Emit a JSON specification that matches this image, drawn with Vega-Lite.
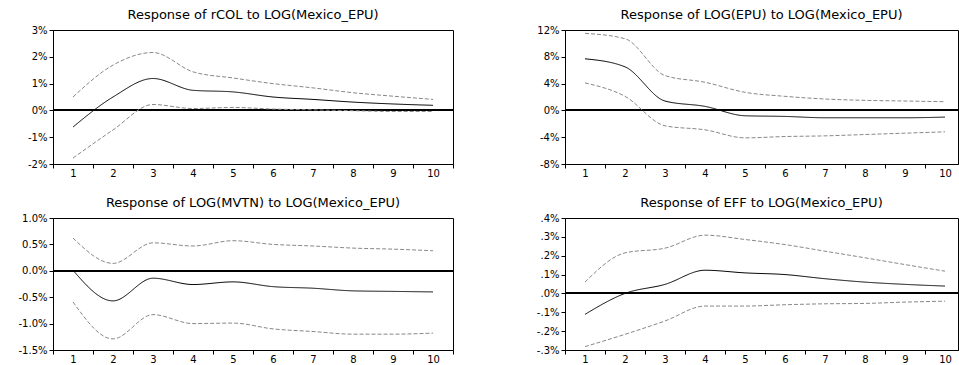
{
  "$schema": "https://vega.github.io/schema/vega-lite/v6.json",
  "padding": {"left": 17, "top": 8, "right": 0, "bottom": 0},
  "background": "white",
  "spacing": {"row": 17, "column": 80},
  "config": {
    "font": "DejaVu Sans",
    "view": {"stroke": "#000", "strokeWidth": 1},
    "axis": {"labelFont": "DejaVu Sans", "labelFontSize": 10, "labelColor": "#000", "domainColor": "#000", "tickColor": "#000", "tickSize": 4, "labelPadding": 2, "grid": false, "title": null, "labelOverlap": false, "labelBound": false, "labelFlush": false, "tickCount": 100},
    "axisX": {"labelPadding": 0},
    "title": {"font": "DejaVu Sans", "fontSize": 13, "fontWeight": "normal", "color": "#000", "anchor": "middle", "frame": "group", "baseline": "bottom", "offset": 3}
  },
  "datasets": {
    "irf": [
      {"panel": "rCOL", "period": 1, "irf": -0.62, "lo": -1.78, "hi": 0.5},
      {"panel": "rCOL", "period": 2, "irf": 0.5, "lo": -0.73, "hi": 1.69},
      {"panel": "rCOL", "period": 3, "irf": 1.19, "lo": 0.22, "hi": 2.16},
      {"panel": "rCOL", "period": 4, "irf": 0.75, "lo": 0.07, "hi": 1.44},
      {"panel": "rCOL", "period": 5, "irf": 0.69, "lo": 0.11, "hi": 1.21},
      {"panel": "rCOL", "period": 6, "irf": 0.5, "lo": 0.05, "hi": 1.0},
      {"panel": "rCOL", "period": 7, "irf": 0.41, "lo": 0.02, "hi": 0.84},
      {"panel": "rCOL", "period": 8, "irf": 0.31, "lo": -0.01, "hi": 0.66},
      {"panel": "rCOL", "period": 9, "irf": 0.24, "lo": -0.04, "hi": 0.53},
      {"panel": "rCOL", "period": 10, "irf": 0.19, "lo": -0.04, "hi": 0.41},
      {"panel": "EPU", "period": 1, "irf": 7.7, "lo": 4.1, "hi": 11.5},
      {"panel": "EPU", "period": 2, "irf": 6.5, "lo": 2.1, "hi": 10.7},
      {"panel": "EPU", "period": 3, "irf": 1.4, "lo": -2.3, "hi": 5.2},
      {"panel": "EPU", "period": 4, "irf": 0.6, "lo": -2.9, "hi": 4.2},
      {"panel": "EPU", "period": 5, "irf": -0.8, "lo": -4.1, "hi": 2.7},
      {"panel": "EPU", "period": 6, "irf": -0.9, "lo": -3.9, "hi": 2.1},
      {"panel": "EPU", "period": 7, "irf": -1.1, "lo": -3.8, "hi": 1.7},
      {"panel": "EPU", "period": 8, "irf": -1.1, "lo": -3.6, "hi": 1.5},
      {"panel": "EPU", "period": 9, "irf": -1.1, "lo": -3.4, "hi": 1.4},
      {"panel": "EPU", "period": 10, "irf": -1.0, "lo": -3.2, "hi": 1.3},
      {"panel": "MVTN", "period": 1, "irf": 0.01, "lo": -0.59, "hi": 0.62},
      {"panel": "MVTN", "period": 2, "irf": -0.57, "lo": -1.29, "hi": 0.14},
      {"panel": "MVTN", "period": 3, "irf": -0.14, "lo": -0.83, "hi": 0.53},
      {"panel": "MVTN", "period": 4, "irf": -0.26, "lo": -1.0, "hi": 0.47},
      {"panel": "MVTN", "period": 5, "irf": -0.21, "lo": -0.99, "hi": 0.57},
      {"panel": "MVTN", "period": 6, "irf": -0.3, "lo": -1.1, "hi": 0.5},
      {"panel": "MVTN", "period": 7, "irf": -0.33, "lo": -1.15, "hi": 0.47},
      {"panel": "MVTN", "period": 8, "irf": -0.38, "lo": -1.2, "hi": 0.43},
      {"panel": "MVTN", "period": 9, "irf": -0.39, "lo": -1.2, "hi": 0.41},
      {"panel": "MVTN", "period": 10, "irf": -0.4, "lo": -1.18, "hi": 0.38},
      {"panel": "EFF", "period": 1, "irf": -0.111, "lo": -0.282, "hi": 0.06},
      {"panel": "EFF", "period": 2, "irf": 0.0, "lo": -0.217, "hi": 0.215},
      {"panel": "EFF", "period": 3, "irf": 0.048, "lo": -0.146, "hi": 0.24},
      {"panel": "EFF", "period": 4, "irf": 0.123, "lo": -0.067, "hi": 0.309},
      {"panel": "EFF", "period": 5, "irf": 0.109, "lo": -0.067, "hi": 0.286},
      {"panel": "EFF", "period": 6, "irf": 0.1, "lo": -0.06, "hi": 0.259},
      {"panel": "EFF", "period": 7, "irf": 0.078, "lo": -0.055, "hi": 0.224},
      {"panel": "EFF", "period": 8, "irf": 0.06, "lo": -0.053, "hi": 0.189},
      {"panel": "EFF", "period": 9, "irf": 0.048, "lo": -0.046, "hi": 0.153},
      {"panel": "EFF", "period": 10, "irf": 0.039, "lo": -0.041, "hi": 0.118}
    ]
  },
  "data": {"name": "irf"},
  "columns": 2,
  "concat": [
    {
      "width": 400, "height": 134,
      "title": "Response of rCOL to LOG(Mexico_EPU)",
      "transform": [{"filter": "datum.panel == 'rCOL'"}, {"fold": ["hi", "lo", "irf"], "as": ["series", "value"]}],
      "layer": [
        {"mark": {"type": "rule", "color": "#000", "strokeWidth": 1.2}, "encoding": {"y": {"datum": 0, "type": "quantitative"}}},
        {"mark": {"type": "line", "strokeWidth": 1, "interpolate": "monotone"},
         "encoding": {
           "x": {"field": "period", "type": "quantitative", "scale": {"domain": [0.5, 10.5], "nice": false, "zero": false},
                 "axis": {"values": [0.5, 1, 1.5, 2, 2.5, 3, 3.5, 4, 4.5, 5, 5.5, 6, 6.5, 7, 7.5, 8, 8.5, 9, 9.5, 10, 10.5], "tickCount": 100, "labelOverlap": false, "labelExpr": "datum.value % 1 == 0 ? format(datum.value, 'd') : ''", "tickOpacity": {"condition": {"test": "datum.value % 1 == 0", "value": 0}, "value": 1}}},
           "y": {"field": "value", "type": "quantitative", "scale": {"domain": [-2, 3], "nice": false, "zero": false},
                 "axis": {"values": [-2, -1, 0, 1, 2, 3], "tickCount": 100, "labelOverlap": false, "labelExpr": "(datum.value < 0 ? '-' : '') + abs(datum.value) + '%'"}},
           "color": {"field": "series", "type": "nominal", "scale": {"domain": ["hi", "lo", "irf"], "range": ["#888888", "#888888", "#000000"]}, "legend": null},
           "strokeDash": {"field": "series", "type": "nominal", "scale": {"domain": ["hi", "lo", "irf"], "range": [[4, 2], [4, 2], [1, 0]]}, "legend": null}
         }}
      ]
    },
    {
      "width": 393, "height": 134,
      "title": "Response of LOG(EPU) to LOG(Mexico_EPU)",
      "transform": [{"filter": "datum.panel == 'EPU'"}, {"fold": ["hi", "lo", "irf"], "as": ["series", "value"]}],
      "layer": [
        {"mark": {"type": "rule", "color": "#000", "strokeWidth": 1.2}, "encoding": {"y": {"datum": 0, "type": "quantitative"}}},
        {"mark": {"type": "line", "strokeWidth": 1, "interpolate": "monotone"},
         "encoding": {
           "x": {"field": "period", "type": "quantitative", "scale": {"domain": [0.5, 10.325], "nice": false, "zero": false},
                 "axis": {"values": [0.5, 1, 1.5, 2, 2.5, 3, 3.5, 4, 4.5, 5, 5.5, 6, 6.5, 7, 7.5, 8, 8.5, 9, 9.5, 10], "tickCount": 100, "labelOverlap": false, "labelExpr": "datum.value % 1 == 0 ? format(datum.value, 'd') : ''", "tickOpacity": {"condition": {"test": "datum.value % 1 == 0", "value": 0}, "value": 1}}},
           "y": {"field": "value", "type": "quantitative", "scale": {"domain": [-8, 12], "nice": false, "zero": false},
                 "axis": {"values": [-8, -4, 0, 4, 8, 12], "tickCount": 100, "labelOverlap": false, "labelExpr": "(datum.value < 0 ? '-' : '') + abs(datum.value) + '%'"}},
           "color": {"field": "series", "type": "nominal", "scale": {"domain": ["hi", "lo", "irf"], "range": ["#888888", "#888888", "#000000"]}, "legend": null},
           "strokeDash": {"field": "series", "type": "nominal", "scale": {"domain": ["hi", "lo", "irf"], "range": [[4, 2], [4, 2], [1, 0]]}, "legend": null}
         }}
      ]
    },
    {
      "width": 400, "height": 132,
      "title": "Response of LOG(MVTN) to LOG(Mexico_EPU)",
      "transform": [{"filter": "datum.panel == 'MVTN'"}, {"fold": ["hi", "lo", "irf"], "as": ["series", "value"]}],
      "layer": [
        {"mark": {"type": "rule", "color": "#000", "strokeWidth": 1.2}, "encoding": {"y": {"datum": 0, "type": "quantitative"}}},
        {"mark": {"type": "line", "strokeWidth": 1, "interpolate": "monotone"},
         "encoding": {
           "x": {"field": "period", "type": "quantitative", "scale": {"domain": [0.5, 10.5], "nice": false, "zero": false},
                 "axis": {"values": [0.5, 1, 1.5, 2, 2.5, 3, 3.5, 4, 4.5, 5, 5.5, 6, 6.5, 7, 7.5, 8, 8.5, 9, 9.5, 10, 10.5], "tickCount": 100, "labelOverlap": false, "labelExpr": "datum.value % 1 == 0 ? format(datum.value, 'd') : ''", "tickOpacity": {"condition": {"test": "datum.value % 1 == 0", "value": 0}, "value": 1}}},
           "y": {"field": "value", "type": "quantitative", "scale": {"domain": [-1.5, 1.0], "nice": false, "zero": false},
                 "axis": {"values": [-1.5, -1.0, -0.5, 0, 0.5, 1.0], "tickCount": 100, "labelOverlap": false, "labelExpr": "(datum.value < 0 ? '-' : '') + format(abs(datum.value), '.1f') + '%'"}},
           "color": {"field": "series", "type": "nominal", "scale": {"domain": ["hi", "lo", "irf"], "range": ["#888888", "#888888", "#000000"]}, "legend": null},
           "strokeDash": {"field": "series", "type": "nominal", "scale": {"domain": ["hi", "lo", "irf"], "range": [[4, 2], [4, 2], [1, 0]]}, "legend": null}
         }}
      ]
    },
    {
      "width": 393, "height": 132,
      "title": "Response of EFF to LOG(Mexico_EPU)",
      "transform": [{"filter": "datum.panel == 'EFF'"}, {"fold": ["hi", "lo", "irf"], "as": ["series", "value"]}],
      "layer": [
        {"mark": {"type": "rule", "color": "#000", "strokeWidth": 1.2}, "encoding": {"y": {"datum": 0, "type": "quantitative"}}},
        {"mark": {"type": "line", "strokeWidth": 1, "interpolate": "monotone"},
         "encoding": {
           "x": {"field": "period", "type": "quantitative", "scale": {"domain": [0.5, 10.325], "nice": false, "zero": false},
                 "axis": {"values": [0.5, 1, 1.5, 2, 2.5, 3, 3.5, 4, 4.5, 5, 5.5, 6, 6.5, 7, 7.5, 8, 8.5, 9, 9.5, 10], "tickCount": 100, "labelOverlap": false, "labelExpr": "datum.value % 1 == 0 ? format(datum.value, 'd') : ''", "tickOpacity": {"condition": {"test": "datum.value % 1 == 0", "value": 0}, "value": 1}}},
           "y": {"field": "value", "type": "quantitative", "scale": {"domain": [-0.3, 0.4], "nice": false, "zero": false},
                 "axis": {"values": [-0.3, -0.2, -0.1, 0, 0.1, 0.2, 0.3, 0.4], "tickCount": 100, "labelOverlap": false, "labelExpr": "(datum.value < 0 ? '-' : '') + replace(format(abs(datum.value), '.1f'), '0.', '.') + '%'"}},
           "color": {"field": "series", "type": "nominal", "scale": {"domain": ["hi", "lo", "irf"], "range": ["#888888", "#888888", "#000000"]}, "legend": null},
           "strokeDash": {"field": "series", "type": "nominal", "scale": {"domain": ["hi", "lo", "irf"], "range": [[4, 2], [4, 2], [1, 0]]}, "legend": null}
         }}
      ]
    }
  ],
  "resolve": {"scale": {"color": "independent", "strokeDash": "independent"}}
}
